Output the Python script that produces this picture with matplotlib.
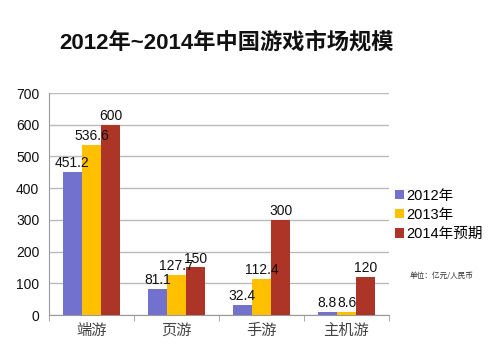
import matplotlib
matplotlib.use("Agg")
import matplotlib.pyplot as plt
import numpy as np

plt.rcParams['font.family'] = ['Liberation Sans', 'Noto Sans CJK SC', 'DejaVu Sans']

categories = ["端游", "页游", "手游", "主机游"]
series_names = ["2012年", "2013年", "2014年预期"]
v2012 = [451.2, 81.1, 32.4, 8.8]
v2013 = [536.6, 127.7, 112.4, 8.6]
v2014 = [600, 150, 300, 120]
labels2012 = ["451.2", "81.1", "32.4", "8.8"]
labels2013 = ["536.6", "127.7", "112.4", "8.6"]
labels2014 = ["600", "150", "300", "120"]
colors = ["#7272CE", "#FFC000", "#AD3528"]

fig = plt.figure(figsize=(5, 3.58), dpi=100)
ax = fig.add_axes([0.098, 0.12, 0.68, 0.62])

x = np.arange(len(categories))
w = 0.225
for i, (vals, labs, c, name) in enumerate(zip([v2012, v2013, v2014],
                                               [labels2012, labels2013, labels2014],
                                               colors, series_names)):
    bars = ax.bar(x + (i - 1) * w, vals, w, color=c, label=name, zorder=3)
    for b, lab in zip(bars, labs):
        ax.text(b.get_x() + b.get_width() / 2, b.get_height() + 6, lab,
                ha='center', va='bottom', fontsize=10, color='#111111', zorder=4)

ax.set_xlim(-0.5, len(categories) - 0.5)
ax.set_ylim(0, 700)
ax.set_yticks(range(0, 701, 100))
ax.yaxis.grid(True, color='#BBBBBB', linewidth=1.0, zorder=0)
ax.tick_params(axis='y', length=0, labelsize=10, pad=7, colors='#111111')
ax.set_xticks(x)
ax.set_xticklabels(categories, fontsize=11, color='#444444',
                   family=['Noto Sans CJK SC', 'DejaVu Sans'])
ax.tick_params(axis='x', length=0, pad=5)
ax.set_xticks(np.arange(-0.5, len(categories), 1), minor=True)
ax.tick_params(axis='x', which='minor', length=4, color='#999999', direction='out')
for s in ['top', 'right']:
    ax.spines[s].set_visible(False)
ax.spines['left'].set_color('#999999')
ax.spines['bottom'].set_color('#999999')

leg = ax.legend(loc='upper left', bbox_to_anchor=(1.0, 0.595), frameon=False,
                handlelength=0.6, handleheight=0.6, handletextpad=0.2,
                labelspacing=0.35, borderaxespad=0,
                prop={'family': ['Liberation Sans', 'Noto Sans CJK SC'], 'size': 10.5})

fig.text(0.82, 0.225, "单位：亿元/人民币", fontsize=5.5, color='#333333',
         family=['Noto Sans CJK SC', 'DejaVu Sans'])

fig.text(0.452, 0.882, "2012年~2014年中国游戏市场规模", fontsize=16, fontweight='bold',
         ha='center', va='center', color='#111111',
         family=['Liberation Sans', 'Noto Sans CJK SC'])

fig.savefig("out.png", dpi=100, facecolor='white')
